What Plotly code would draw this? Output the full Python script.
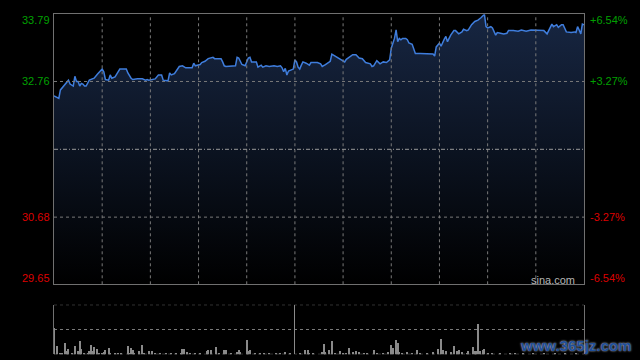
import plotly.graph_objects as go

# ---- data (HK intraday, minutes from open; 0..330, lunch break at 150) ----
prev_close = 31.72
price_ticks = [33.79, 32.76, 30.68, 29.65]
pct_labels = ["+6.54%", "+3.27%", "-3.27%", "-6.54%"]
grid_minutes = [30, 60, 90, 120, 150, 180, 210, 240, 270, 300]
lunch_minute = 150

minutes = [0, 3, 4, 7, 9, 10, 12, 13, 14, 15, 16, 17, 18, 19, 20, 22, 24, 25, 27, 28,
           30, 31, 32, 34, 35, 36, 38, 40, 41, 45, 46, 48, 49, 52, 55, 57, 58, 59, 62, 63,
           65, 67, 68, 71, 72, 73, 75, 77, 78, 80, 82, 86, 87, 88, 89, 91, 92, 94, 96, 99,
           100, 104, 105, 106, 107, 110, 113, 114, 115, 117, 119, 121, 122, 123, 126, 127, 129, 130, 132, 134,
           137, 139, 141, 142, 143, 144, 145, 146, 148, 149, 150, 151, 152, 153, 154, 155, 157, 159, 160, 164,
           166, 167, 169, 171, 172, 173, 175, 177, 179, 181, 182, 184, 186, 188, 190, 192, 194, 197, 198, 199,
           201, 203, 205, 207, 209, 210, 211, 212, 213, 214, 215, 216, 217, 219, 220, 221, 223, 225, 228, 232,
           233, 236, 237, 238, 240, 241, 243, 244, 245, 247, 249, 250, 252, 253, 254, 255, 257, 258, 260, 262,
           264, 266, 268, 269, 270, 272, 273, 275, 276, 278, 280, 282, 283, 286, 289, 291, 294, 297, 304, 305,
           307, 308, 309, 310, 311, 313, 314, 316, 317, 319, 322, 324, 325, 326, 327, 328, 329, 330]
prices = [32.54, 32.50, 32.63, 32.72, 32.78, 32.72, 32.69, 32.84, 32.76, 32.76, 32.69, 32.73, 32.72, 32.69, 32.69, 32.78, 32.80, 32.81, 32.87, 32.90,
          32.95, 32.91, 32.79, 32.78, 32.86, 32.81, 32.83, 32.91, 32.95, 32.95, 32.89, 32.81, 32.79, 32.80, 32.80, 32.78, 32.79, 32.78, 32.79, 32.80,
          32.86, 32.86, 32.78, 32.77, 32.89, 32.86, 32.88, 32.96, 32.99, 33.00, 32.97, 32.97, 33.04, 33.00, 33.01, 33.02, 33.05, 33.07, 33.11, 33.13,
          33.11, 33.11, 33.06, 33.00, 32.99, 33.00, 33.00, 33.13, 33.12, 33.02, 33.00, 33.12, 33.13, 33.06, 33.06, 32.98, 33.01, 32.98, 33.00, 32.99,
          33.00, 32.99, 33.00, 32.97, 32.91, 32.96, 32.86, 32.92, 32.94, 32.95, 33.09, 33.06, 32.98, 32.95, 33.01, 33.06, 33.04, 33.01, 33.05, 33.05,
          33.03, 32.99, 33.02, 33.06, 33.07, 33.18, 33.15, 33.12, 33.09, 33.06, 33.10, 33.13, 33.17, 33.17, 33.12, 33.11, 33.05, 33.03, 32.99, 33.00,
          33.08, 33.03, 33.06, 33.05, 33.09, 33.27, 33.35, 33.42, 33.55, 33.37, 33.42, 33.40, 33.42, 33.42, 33.40, 33.35, 33.33, 33.19, 33.19, 33.19,
          33.18, 33.18, 33.15, 33.29, 33.35, 33.30, 33.41, 33.45, 33.37, 33.47, 33.54, 33.54, 33.49, 33.50, 33.52, 33.56, 33.54, 33.55, 33.63, 33.68,
          33.70, 33.74, 33.79, 33.60, 33.58, 33.60, 33.58, 33.47, 33.51, 33.50, 33.49, 33.50, 33.54, 33.54, 33.53, 33.55, 33.53, 33.55, 33.55, 33.54,
          33.49, 33.55, 33.58, 33.64, 33.60, 33.63, 33.59, 33.63, 33.63, 33.52, 33.51, 33.52, 33.51, 33.60, 33.55, 33.49, 33.64, 33.63]

vol_minutes = [0, 2, 4, 5, 7, 8, 9, 11, 13, 15, 16, 17, 19, 21, 22, 23, 24, 25, 27, 28,
               30, 31, 32, 34, 35, 38, 40, 42, 46, 47, 48, 49, 50, 53, 55, 56, 59, 61, 63, 66,
               70, 73, 76, 79, 80, 81, 83, 85, 88, 91, 95, 96, 98, 101, 103, 106, 107, 110, 114, 115,
               116, 120, 121, 122, 125, 128, 131, 134, 138, 141, 144, 147, 153, 156, 158, 159, 161, 167, 168, 169,
               171, 173, 175, 178, 180, 182, 184, 186, 188, 190, 193, 195, 199, 201, 205, 208, 210, 211, 213, 214,
               215, 217, 220, 223, 226, 228, 232, 236, 239, 241, 242, 244, 247, 249, 251, 252, 254, 257, 258, 261,
               262, 263, 264, 265, 267, 268, 270, 273, 278, 284, 287, 292, 298, 305, 312, 318, 325]
vol_values = [270, 83, 10, 17, 117, 37, 60, 10, 83, 37, 133, 60, 10, 10, 33, 93, 37, 77, 60, 10,
              17, 27, 50, 67, 17, 10, 10, 10, 83, 10, 67, 43, 20, 33, 93, 10, 33, 33, 10, 10,
              15, 10, 20, 15, 53, 53, 27, 10, 15, 10, 33, 43, 50, 77, 17, 43, 50, 10, 27, 50,
              27, 143, 37, 50, 10, 15, 10, 12, 10, 15, 27, 10, 10, 43, 50, 17, 10, 27, 103, 27,
              50, 133, 10, 33, 15, 10, 70, 27, 33, 27, 10, 10, 43, 15, 10, 27, 93, 67, 143, 120,
              27, 17, 27, 17, 43, 10, 10, 27, 53, 153, 50, 37, 27, 83, 33, 43, 27, 17, 33, 77,
              33, 33, 310, 33, 50, 60, 10, 15, 10, 12, 10, 10, 10, 15, 10, 10, 10]
vol_max = 496

# ---- styling ----
grid_col = "#7a7a7a"
border_col = "#707070"
up_col = "#00a000"
dn_col = "#dd0000"
x_dom = [54 / 640, 584 / 640]

fig = go.Figure()
fig.add_trace(go.Scatter(
    x=minutes, y=prices, mode="lines",
    line=dict(color="#3f7ddc", width=1.5),
    fill="tozeroy",
    fillgradient=dict(type="vertical",
                      colorscale=[[0, "rgb(0,0,0)"], [1, "rgb(23,38,66)"]],
                      start=price_ticks[-1], stop=price_ticks[0]),
    hoverinfo="skip", xaxis="x", yaxis="y"))

fig.add_trace(go.Bar(
    x=vol_minutes, y=vol_values, width=0.65,
    marker=dict(color="#8a8a8a", line=dict(width=0)),
    hoverinfo="skip", xaxis="x2", yaxis="y2"))

shapes = []
for m in grid_minutes:
    shapes.append(dict(type="line", xref="x", yref="y domain", x0=m, x1=m, y0=0, y1=1,
                       line=dict(color=grid_col, width=1, dash="dot"), layer="above"))
for p in price_ticks[1:3]:
    shapes.append(dict(type="line", xref="x domain", yref="y", x0=0, x1=1, y0=p, y1=p,
                       line=dict(color=grid_col, width=1, dash="dot"), layer="above"))
shapes.append(dict(type="line", xref="x domain", yref="y", x0=0, x1=1, y0=prev_close, y1=prev_close,
                   line=dict(color="#9a9a9a", width=1, dash="4px,2px,1px,2px"), layer="above"))
# volume panel horizontal dotted lines (top, middle, bottom)
for v in [0, vol_max / 2, vol_max]:
    shapes.append(dict(type="line", xref="x2 domain", yref="y2", x0=0, x1=1, y0=v, y1=v,
                       line=dict(color=grid_col, width=1, dash="dot"), layer="below"))

annotations = []
shifts = [-6, 0, 0, 6]
for i, (p, lab) in enumerate(zip(price_ticks, pct_labels)):
    col = up_col if p > prev_close else dn_col
    annotations.append(dict(xref="paper", yref="y", x=x_dom[0], y=p, xanchor="right", yanchor="middle",
                            xshift=-2, yshift=shifts[i], text=f"{p:.2f}", showarrow=False,
                            font=dict(family="Liberation Sans, Arial", size=11, color=col)))
    annotations.append(dict(xref="paper", yref="y", x=x_dom[1], y=p, xanchor="left", yanchor="middle",
                            xshift=4, yshift=shifts[i], text=lab, showarrow=False,
                            font=dict(family="Liberation Sans, Arial", size=11, color=col)))
annotations.append(dict(xref="paper", yref="paper", x=553 / 640, y=1 - 279.5 / 360,
                        xanchor="center", yanchor="middle", text="sina.com", showarrow=False,
                        font=dict(family="Liberation Sans, Arial", size=11, color="#b5b5b5")))
annotations.append(dict(xref="paper", yref="paper", x=575 / 640, y=1 - 345 / 360,
                        xanchor="center", yanchor="middle", text="www.365jz.com", showarrow=False,
                        font=dict(family="Liberation Sans, Arial", size=15, color="#1f4f9a",
                                  weight="bold", shadow="0px 0px 2px #d8dfea")))

fig.update_layout(
    width=640, height=360,
    margin=dict(l=0, r=0, t=0, b=0),
    paper_bgcolor="black", plot_bgcolor="black",
    showlegend=False, bargap=0,
    xaxis=dict(domain=x_dom, range=[0, 330], showgrid=False, zeroline=False,
               showticklabels=False, ticks="", showline=True, mirror=True,
               linecolor=border_col, linewidth=1, layer="above traces"),
    yaxis=dict(domain=[1 - 284.3 / 360, 1 - 14.3 / 360], range=[price_ticks[-1], price_ticks[0]],
               showgrid=False, zeroline=False, showticklabels=False, ticks="",
               showline=True, mirror=True, linecolor=border_col, linewidth=1, layer="above traces"),
    xaxis2=dict(domain=x_dom, range=[0, 330], anchor="y2", tickvals=[lunch_minute],
                showgrid=True, gridcolor="#8a8a8a", gridwidth=1, zeroline=False,
                showticklabels=False, ticks="", showline=False),
    yaxis2=dict(domain=[1 - 354.3 / 360, 1 - 304.7 / 360], range=[0, vol_max], anchor="x2",
                showgrid=False, zeroline=False, showticklabels=False, ticks="",
                showline=True, mirror=True, linecolor=border_col, linewidth=1),
    shapes=shapes, annotations=annotations,
)

fig.write_html("out.html")
